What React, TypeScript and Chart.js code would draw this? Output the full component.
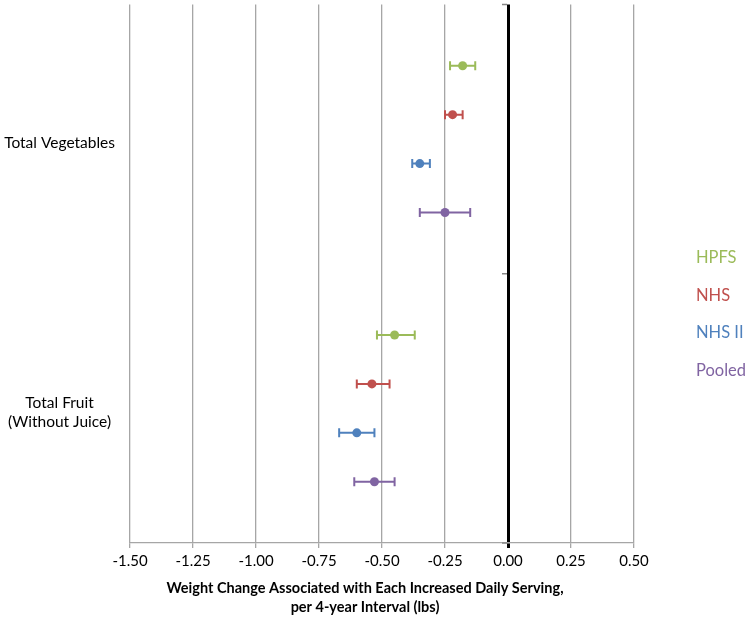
import React, { useEffect, useRef } from "react";
import { Chart, registerables } from "chart.js";

Chart.register(...registerables);

const categories = ["Total Vegetables", "Total Fruit\n(Without Juice)"];
const seriesNames = ["HPFS", "NHS", "NHS II", "Pooled"];
const seriesColors = ["#9BBB59", "#C0504D", "#4F81BD", "#8064A2"];
const xTitleLines = [
  "Weight Change Associated with Each Increased Daily Serving,",
  "per 4-year Interval (lbs)",
];

// per series: [Total Vegetables, Total Fruit]
const hpfsEst = [-0.18, -0.45];
const hpfsLow = [-0.23, -0.52];
const hpfsHigh = [-0.13, -0.37];

const nhsEst = [-0.22, -0.54];
const nhsLow = [-0.25, -0.6];
const nhsHigh = [-0.18, -0.47];

const nhs2Est = [-0.35, -0.6];
const nhs2Low = [-0.38, -0.67];
const nhs2High = [-0.31, -0.53];

const pooledEst = [-0.25, -0.53];
const pooledLow = [-0.35, -0.61];
const pooledHigh = [-0.15, -0.45];

const xMin = -1.5;
const xMax = 0.5;
const xStep = 0.25;

const estimates = [hpfsEst, nhsEst, nhs2Est, pooledEst];
const lows = [hpfsLow, nhsLow, nhs2Low, pooledLow];
const highs = [hpfsHigh, nhsHigh, nhs2High, pooledHigh];

// category slot layout: each category spans 5.5 units, series at 1.25 + i
const SLOT = 5.5;
const slotPos = (c: number, s: number) => c * SLOT + 1.25 + s;

const FONT = "Lato, 'Carlito', 'Open Sans', sans-serif";

const errorBarPlugin = {
  id: "errorBars",
  beforeDatasetsDraw(chart: any) {
    const ctx = chart.ctx;
    const xs = chart.scales.x;
    chart.data.datasets.forEach((ds: any, di: number) => {
      const meta = chart.getDatasetMeta(di);
      meta.data.forEach((pt: any, i: number) => {
        const lo = xs.getPixelForValue(ds.errLow[i]);
        const hi = xs.getPixelForValue(ds.errHigh[i]);
        const y = pt.y;
        ctx.save();
        ctx.strokeStyle = ds.borderColor;
        ctx.lineWidth = 2;
        ctx.beginPath();
        ctx.moveTo(lo, y);
        ctx.lineTo(hi, y);
        ctx.moveTo(lo, y - 4.5);
        ctx.lineTo(lo, y + 4.5);
        ctx.moveTo(hi, y - 4.5);
        ctx.lineTo(hi, y + 4.5);
        ctx.stroke();
        ctx.restore();
      });
    });
  },
};

const zeroAxisTicksPlugin = {
  id: "zeroAxisTicks",
  afterDraw(chart: any) {
    const ctx = chart.ctx;
    const xs = chart.scales.x;
    const ys = chart.scales.y;
    const x0 = xs.getPixelForValue(0);
    ctx.save();
    ctx.strokeStyle = "#868686";
    ctx.lineWidth = 1.5;
    for (let c = 0; c <= categories.length; c++) {
      const y = ys.getPixelForValue(c * SLOT);
      ctx.beginPath();
      ctx.moveTo(x0 - 6, y);
      ctx.lineTo(x0 - 1, y);
      ctx.stroke();
    }
    ctx.restore();
  },
};

const textPlugin = {
  id: "texts",
  afterDraw(chart: any) {
    const ctx = chart.ctx;
    const area = chart.chartArea;
    ctx.save();
    // legend
    ctx.font = `16.5px ${FONT}`;
    ctx.textAlign = "left";
    ctx.textBaseline = "middle";
    seriesNames.forEach((name, i) => {
      ctx.fillStyle = seriesColors[i];
      ctx.fillText(name, area.right + 62, 258 + i * 37.5);
    });
    // x axis title, centred on the chart width without the legend
    ctx.font = `bold 14.5px ${FONT}`;
    ctx.fillStyle = "#000";
    ctx.textAlign = "center";
    const cx = (chart.width - 22) / 2;
    xTitleLines.forEach((line, i) => {
      ctx.fillText(line, cx, 588 + i * 19.5);
    });
    ctx.restore();
  },
};

export default function App() {
  const ref = useRef<HTMLCanvasElement | null>(null);

  useEffect(() => {
    document.body.style.margin = "0";
    if (!ref.current) return;
    const datasets = seriesNames.map((name, s) => ({
      label: name,
      data: categories.map((_, c) => ({ x: estimates[s][c], y: slotPos(c, s) })),
      errLow: lows[s],
      errHigh: highs[s],
      backgroundColor: seriesColors[s],
      borderColor: seriesColors[s],
      pointRadius: 4.5,
      pointBorderWidth: 0,
      showLine: false,
    }));

    const chart = new Chart(ref.current, {
      type: "scatter",
      data: { datasets } as any,
      options: {
        animation: false,
        responsive: false,
        layout: { padding: { top: 3, right: 118, left: 0, bottom: 0 } },
        plugins: { legend: { display: false }, tooltip: { enabled: false } },
        scales: {
          x: {
            type: "linear",
            min: xMin,
            max: xMax,
            afterFit: (scale: any) => {
              scale.height = 79;
              scale.paddingLeft = 0;
              scale.paddingRight = 0;
            },
            ticks: {
              stepSize: xStep,
              color: "#000",
              font: { family: FONT, size: 15 },
              padding: 4,
              callback: (v: any) => Number(v).toFixed(2),
            },
            grid: {
              color: (c: any) => (c.tick && Math.abs(c.tick.value) < 1e-9 ? "#000" : "#A6A6A6"),
              lineWidth: (c: any) => (c.tick && Math.abs(c.tick.value) < 1e-9 ? 3 : 1.3),
              tickLength: 5,
            },
            border: { display: true, color: "#A6A6A6", width: 1.3 },
            title: { display: false },
          },
          y: {
            type: "linear",
            reverse: true,
            min: 0,
            max: categories.length * SLOT,
            afterFit: (scale: any) => {
              scale.width = 130;
              scale.paddingTop = 0;
              scale.paddingBottom = 0;
            },
            afterBuildTicks: (scale: any) => {
              scale.ticks = categories.map((_, c) => ({ value: c * SLOT + SLOT / 2 }));
            },
            ticks: {
              color: "#000",
              font: { family: FONT, size: 15.5, lineHeight: 1.2 },
              padding: 15,
              crossAlign: "center",
              labelOffset: 4,
              callback: (_v: any, i: number) => {
                const lab = categories[i] ?? "";
                return lab.includes("\n") ? lab.split("\n") : lab;
              },
            },
            grid: { display: false, drawTicks: false },
            border: { display: false },
          },
        },
      } as any,
      plugins: [errorBarPlugin, zeroAxisTicksPlugin, textPlugin],
    });
    return () => chart.destroy();
  }, []);

  return (
    <div style={{ width: 752, height: 622 }}>
      <canvas ref={ref} width={752} height={622} style={{ display: "block" }} />
    </div>
  );
}
